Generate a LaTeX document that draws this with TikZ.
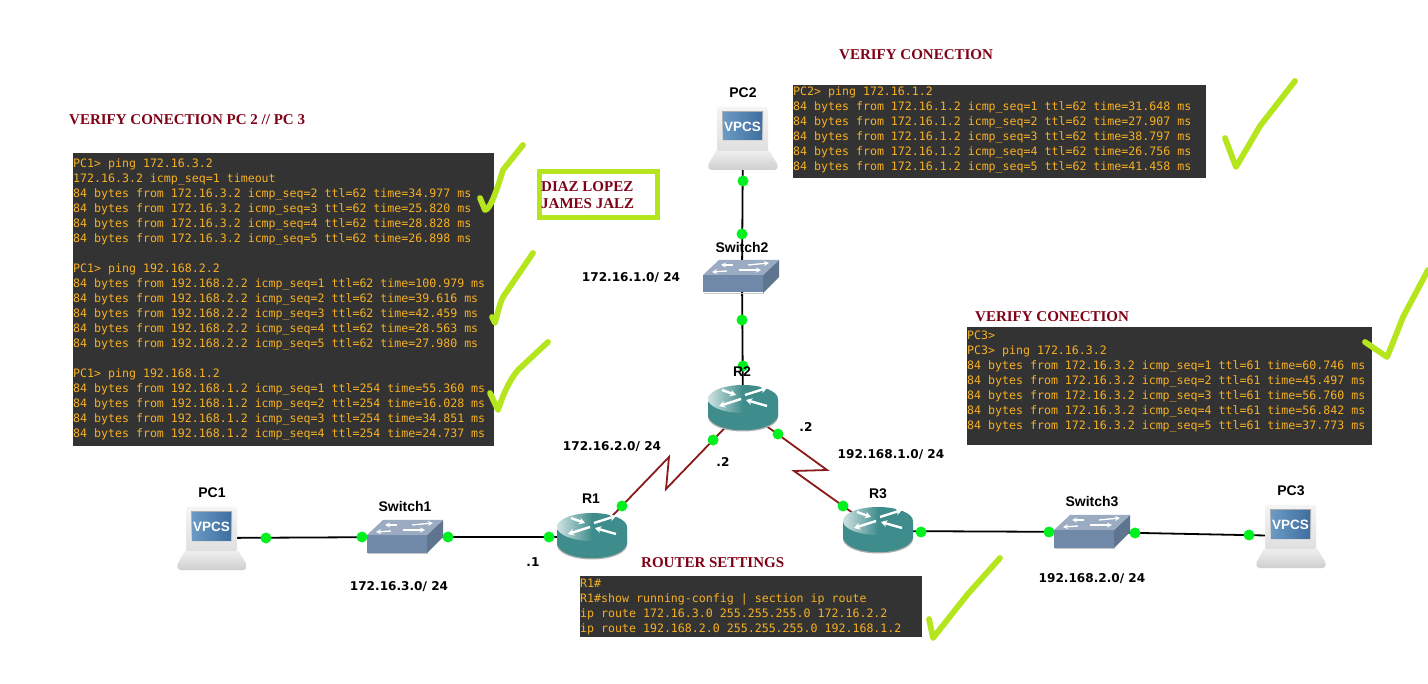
\documentclass[tikz,border=0pt]{standalone}
\usepackage{fontspec}
\setmainfont{Liberation Serif}
\newfontfamily\consolefont{DejaVu Sans Mono}
\newfontfamily\devfont{Liberation Sans}
\newfontfamily\netfont{DejaVu Sans}
\usetikzlibrary{arrows.meta}
\definecolor{termbg}{HTML}{333333}
\definecolor{termfg}{HTML}{F7B023}
\definecolor{headred}{HTML}{800016}
\definecolor{markgreen}{HTML}{B5E61D}
\definecolor{portgreen}{HTML}{00F020}
\definecolor{serialred}{HTML}{8B1A1A}
\definecolor{teal1}{HTML}{3F8C8C}
\definecolor{sw1}{HTML}{7089A8}
\definecolor{screenl}{HTML}{6B9AC4}
\definecolor{screenr}{HTML}{3F6F9F}
\tikzset{
  anchorpt/.style={inner sep=0pt,minimum size=0pt},
  term/.style={fill=termbg,text=termfg,inner sep=0pt,anchor=north west,font=\consolefont\fontsize{11.6}{15}\selectfont},
  heading/.style={text=headred,inner sep=0pt,anchor=west,font=\bfseries\fontsize{15}{17}\selectfont},
  devlabel/.style={inner sep=0pt,font=\devfont\bfseries\fontsize{14}{16}\selectfont},
  netlabel/.style={inner sep=0pt,font=\netfont\bfseries\fontsize{12.1}{14}\selectfont},
  port/.style={circle,fill=portgreen,inner sep=0pt,minimum size=11pt},
  eth/.style={draw=black,line width=1.8pt},
  serial/.style={draw=serialred,line width=1.8pt,line join=miter},
  checkmark/.style={draw=markgreen,line width=5.8pt,line cap=round,line join=round},
  namebox/.style={draw=markgreen,line width=5pt,inner sep=0pt,minimum width=118pt,minimum height=46pt},
  rarrow/.style={white,line width=2.4pt,-{Stealth[length=6pt,width=7pt]}},
}
\newcommand{\termtext}[4]{\parbox[t][#2pt][t]{#1pt}{\raggedright\vspace{#3pt}\noindent #4}}
\newcommand{\pcicon}[2]{%
 \begin{scope}[shift={(#1,#2)}]
  \shade[top color=gray!10,bottom color=gray!38,rounded corners=2pt] (-26,42) -- (25,42) -- (35,58) -- (34,63) -- (-34,63) -- (-35,58) -- cycle;
  \shade[top color=gray!8,bottom color=gray!25,rounded corners=2pt] (-26,0) rectangle (25,44);
  \shade[top color=gray!65,bottom color=gray!30] (-21,5) rectangle (20,34);
  \shade[left color=screenl,right color=screenr] (-20,6) rectangle (19,33);
  \node[inner sep=0pt,text=white,font=\devfont\bfseries\fontsize{13.5}{15}\selectfont] at (-0.5,20) {VPCS};
 \end{scope}}
\newcommand{\swicon}[2]{%
 \begin{scope}[shift={(#1,#2)}]
  \fill[gray!45] (1,33) -- (61,33) -- (61,34) -- (1,34) -- cycle;
  \fill[sw1!85!black] (60,15) -- (76,0) -- (76,17) -- (60,33) -- cycle;
  \fill[sw1] (0,15) rectangle (60,32.5);
  \fill[sw1!70!white] (0,15) -- (16,0) -- (76,0) -- (60,15) -- cycle;
  \draw[white,line width=1.3pt,-{Stealth[length=5pt,width=5pt]}] (30,5) -- (18,5);
  \draw[white,line width=1.3pt,-{Stealth[length=5pt,width=5pt]}] (45,5) -- (66,3);
  \draw[white,line width=1.3pt,-{Stealth[length=5pt,width=5pt]}] (24,11) -- (9,12);
  \draw[white,line width=1.3pt,-{Stealth[length=5pt,width=5pt]}] (36,10) -- (58,10);
 \end{scope}}
\newcommand{\rticon}[2]{%
 \begin{scope}[shift={(#1,#2)}]
  \fill[gray!60] (-35,18) -- (-35,33) .. controls (-30,51) and (30,51) .. (35,33) -- (35,18) -- cycle;
  \fill[teal1] (-35,15) -- (-35,31) .. controls (-30,50) and (30,50) .. (35,31) -- (35,15) -- cycle;
  \shade[left color=teal1!25!white,right color=teal1,middle color=teal1] (0,14) ellipse [x radius=35,y radius=14];
  \draw[rarrow] (-21,5) -- (-7,10);
  \draw[rarrow] (-2,14) -- (-24,21);
  \draw[rarrow] (2,10) -- (24,3);
  \draw[rarrow] (24,21) -- (3,15);
 \end{scope}}
\begin{document}
\begin{tikzpicture}[x=1pt,y=-1pt]
\useasboundingbox (0,0) rectangle (1428,684);
\fill[white] (0,0) rectangle (1428,684);
% device anchors
\node[anchorpt] (pc1) at (212,538) {};
\node[anchorpt] (pc2) at (743,130) {};
\node[anchorpt] (pc3) at (1291,536) {};
\node[anchorpt] (sw1) at (405,537) {};
\node[anchorpt] (sw2) at (742,277) {};
\node[anchorpt] (sw3) at (1092,532) {};
\node[anchorpt] (r1) at (592,537) {};
\node[anchorpt] (r2) at (743,409) {};
\node[anchorpt] (r3) at (878,531) {};
\coordinate (za) at (669,457);
\coordinate (zb) at (666,489);
\coordinate (zc) at (827,470);
\coordinate (zd) at (794,471);
% links
\draw[eth] (pc1) -- (sw1);
\draw[eth] (sw1) -- (r1);
\draw[eth] (pc2) -- (sw2);
\draw[eth] (sw2) -- (r2);
\draw[eth] (r3) -- (sw3);
\draw[eth] (sw3) -- (pc3);
\draw[serial] (r1) -- (za) -- (zb) -- (r2);
\draw[serial] (r2) -- (zc) -- (zd) -- (r3);
% icons
\pcicon{212}{507}
\pcicon{743}{107}
\pcicon{1291}{505}
\swicon{367}{520}
\swicon{703}{260}
\swicon{1054}{515}
\rticon{592}{513}
\rticon{743}{385}
\rticon{878}{507}
% ports
\node[port] (p1) at (266,538) {};
\node[port] (p2) at (362,537) {};
\node[port] (p3) at (448,537) {};
\node[port] (p4) at (549,537) {};
\node[port] (p5) at (622,506) {};
\node[port] (p6) at (713,440) {};
\node[port] (p7) at (778,434) {};
\node[port] (p8) at (843,506) {};
\node[port] (p9) at (743,181) {};
\node[port] (p10) at (742,234) {};
\node[port] (p11) at (742,320) {};
\node[port] (p12) at (743,366) {};
\node[port] (p13) at (921,532) {};
\node[port] (p14) at (1049,532) {};
\node[port] (p15) at (1135,533) {};
\node[port] (p16) at (1249,535) {};
% device labels
\node[devlabel] (lpc1) at (212,493) {PC1};
\node[devlabel] (lsw1) at (405,506) {Switch1};
\node[devlabel] (lr1) at (591,499) {R1};
\node[devlabel] (lpc2) at (743,93) {PC2};
\node[devlabel] (lsw2) at (742,247) {Switch2};
\node[devlabel] (lr2) at (742,372) {R2};
\node[devlabel] (lr3) at (878,494) {R3};
\node[devlabel] (lsw3) at (1092,502) {Switch3};
\node[devlabel] (lpc3) at (1291,491) {PC3};
% network labels
\node[netlabel] (n1) at (399,587) {172.16.3.0/ 24};
\node[netlabel] (n2) at (612,447) {172.16.2.0/ 24};
\node[netlabel] (n3) at (631,278) {172.16.1.0/ 24};
\node[netlabel] (n4) at (891,455) {192.168.1.0/ 24};
\node[netlabel] (n5) at (1092,579) {192.168.2.0/ 24};
\node[netlabel] (d1) at (533,562) {.1};
\node[netlabel] (d2) at (723,462) {.2};
\node[netlabel] (d3) at (806,427) {.2};
% headings
\node[heading] (h1) at (69,120) {VERIFY CONECTION PC 2 // PC 3};
\node[heading] (h2) at (839,55) {VERIFY CONECTION};
\node[heading] (h3) at (975,317) {VERIFY CONECTION};
\node[heading] (h4) at (641,563) {ROUTER SETTINGS};
% name box
\node[namebox] (nm) at (598.5,194.5) {};
\node[heading,anchor=west] (nm1) at (541,187) {DIAZ LOPEZ};
\node[heading,anchor=west] (nm2) at (541,204) {JAMES JALZ};
% terminals
\node[term] (t1) at (73,153) {\termtext{421}{293}{5}{PC1> ping 172.16.3.2\\
172.16.3.2 icmp\_seq=1 timeout\\
84 bytes from 172.16.3.2 icmp\_seq=2 ttl=62 time=34.977 ms\\
84 bytes from 172.16.3.2 icmp\_seq=3 ttl=62 time=25.820 ms\\
84 bytes from 172.16.3.2 icmp\_seq=4 ttl=62 time=28.828 ms\\
84 bytes from 172.16.3.2 icmp\_seq=5 ttl=62 time=26.898 ms\\
\mbox{}\\
PC1> ping 192.168.2.2\\
84 bytes from 192.168.2.2 icmp\_seq=1 ttl=62 time=100.979 ms\\
84 bytes from 192.168.2.2 icmp\_seq=2 ttl=62 time=39.616 ms\\
84 bytes from 192.168.2.2 icmp\_seq=3 ttl=62 time=42.459 ms\\
84 bytes from 192.168.2.2 icmp\_seq=4 ttl=62 time=28.563 ms\\
84 bytes from 192.168.2.2 icmp\_seq=5 ttl=62 time=27.980 ms\\
\mbox{}\\
PC1> ping 192.168.1.2\\
84 bytes from 192.168.1.2 icmp\_seq=1 ttl=254 time=55.360 ms\\
84 bytes from 192.168.1.2 icmp\_seq=2 ttl=254 time=16.028 ms\\
84 bytes from 192.168.1.2 icmp\_seq=3 ttl=254 time=34.851 ms\\
84 bytes from 192.168.1.2 icmp\_seq=4 ttl=254 time=24.737 ms}};
\node[term] (t2) at (793,85) {\termtext{413}{93}{1}{PC2> ping 172.16.1.2\\
84 bytes from 172.16.1.2 icmp\_seq=1 ttl=62 time=31.648 ms\\
84 bytes from 172.16.1.2 icmp\_seq=2 ttl=62 time=27.907 ms\\
84 bytes from 172.16.1.2 icmp\_seq=3 ttl=62 time=38.797 ms\\
84 bytes from 172.16.1.2 icmp\_seq=4 ttl=62 time=26.756 ms\\
84 bytes from 172.16.1.2 icmp\_seq=5 ttl=62 time=41.458 ms}};
\node[term] (t3) at (967,327) {\termtext{405}{118}{3.5}{PC3>\\
PC3> ping 172.16.3.2\\
84 bytes from 172.16.3.2 icmp\_seq=1 ttl=61 time=60.746 ms\\
84 bytes from 172.16.3.2 icmp\_seq=2 ttl=61 time=45.497 ms\\
84 bytes from 172.16.3.2 icmp\_seq=3 ttl=61 time=56.760 ms\\
84 bytes from 172.16.3.2 icmp\_seq=4 ttl=61 time=56.842 ms\\
84 bytes from 172.16.3.2 icmp\_seq=5 ttl=61 time=37.773 ms}};
\node[term] (t4) at (580,576) {\termtext{342}{61}{3}{R1\#\\
R1\#show running-config | section ip route\\
ip route 172.16.3.0 255.255.255.0 172.16.2.2\\
ip route 192.168.2.0 255.255.255.0 192.168.1.2}};
% check marks
\draw[checkmark] (480,198) -- (485,210) .. controls (490,210) and (497,190) .. (503,170) -- (523,145);
\draw[checkmark] (492,317) -- (495,323) .. controls (497,315) and (500,303) .. (503,297) -- (533,253);
\draw[checkmark] (490,393) -- (498,410) .. controls (502,398) and (508,382) .. (518,370) -- (548,342);
\draw[checkmark] (1225,138) -- (1236,167) -- (1260,126) -- (1295,81);
\draw[checkmark] (1365,342) -- (1387,357) .. controls (1392,345) and (1398,330) .. (1403,317) -- (1428,270);
\draw[checkmark] (929,619) -- (933,638) -- (967,595) -- (1000,558);
\end{tikzpicture}
\end{document}
